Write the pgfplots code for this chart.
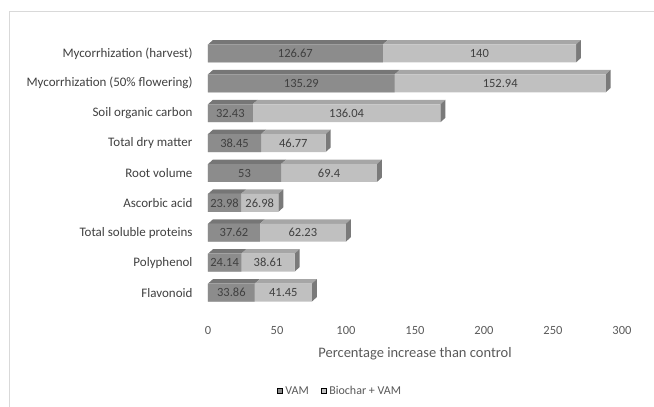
\documentclass[border=0pt]{standalone}
\usepackage{pgfplots}
\pgfplotsset{compat=1.18}
\usepackage{pgfplotstable}
\usepackage{fontspec}
\setmainfont{Carlito}

\definecolor{vamfront}{RGB}{140,140,140}
\definecolor{vamtop}{RGB}{118,118,118}
\definecolor{biofront}{RGB}{192,192,192}
\definecolor{biotop}{RGB}{166,166,166}
\definecolor{barside}{RGB}{122,122,122}
\definecolor{valtxt}{RGB}{64,64,64}
\definecolor{ticktxt}{RGB}{89,89,89}
\definecolor{chartframe}{RGB}{217,217,217}

% pos 0 is the bottom row (Flavonoid), pos 8 the top row
\pgfplotstableread{
pos vam    bio
0   33.86  41.45
1   24.14  38.61
2   37.62  62.23
3   23.98  26.98
4   53     69.4
5   38.45  46.77
6   32.43  136.04
7   135.29 152.94
8   126.67 140
}\effects

% half height of a bar front, and the depth of the extrusion (axis units)
\def\hw{0.3}
\def\dx{3.6}
\def\dy{0.15}

\begin{document}
\begin{tikzpicture}[x=1pt,y=1pt]
\begin{axis}[
  at={(208pt,99.5pt)}, anchor=south west,
  scale only axis, width=414pt, height=269pt,
  clip=false,
  xmin=0, xmax=300, ymin=-0.5, ymax=8.5,
  xtick={0,50,...,300},
  ytick={0,...,8},
  yticklabels={Flavonoid, Polyphenol, Total soluble proteins, Ascorbic acid,
    Root volume, Total dry matter, Soil organic carbon,
    Mycorrhization (50\% flowering), Mycorrhization (harvest)},
  axis line style={draw=none},
  tick style={draw=none},
  /pgf/number format/assume math mode=true,
  /pgf/number format/1000 sep={},
  xticklabel style={font=\fontsize{12.5}{14}\selectfont, text=ticktxt, yshift=-15pt},
  yticklabel style={font=\fontsize{13}{15}\selectfont, text=valtxt, xshift=-12pt},
  xlabel={Percentage increase than control},
  xlabel style={font=\fontsize{14.5}{16}\selectfont, text=ticktxt, yshift=-6pt},
  legend style={at={(0.319,-0.3105)}, anchor=center, draw=none,
    font=\fontsize{12}{14}\selectfont, text=ticktxt,
    legend columns=2, inner sep=0pt,
    /tikz/every odd column/.append style={column sep=1pt},
    /tikz/every even column/.append style={column sep=10pt}},
  legend image code/.code={\fill[#1] (0pt,-2.5pt) rectangle (5pt,2.5pt);},
]

% top and side faces of each bar
\pgfplotsinvokeforeach{0,...,8}{
  \pgfplotstablegetelem{#1}{vam}\of\effects
  \pgfmathsetmacro\va{\pgfplotsretval}
  \pgfplotstablegetelem{#1}{bio}\of\effects
  \pgfmathsetmacro\vt{\va+\pgfplotsretval}
  \pgfmathsetmacro\ylo{#1-\hw}
  \pgfmathsetmacro\yhi{#1+\hw}
  \pgfmathsetmacro\ytop{#1+\hw+\dy}
  \pgfmathsetmacro\ybk{#1-\hw+\dy}
  \pgfmathsetmacro\vadx{\va+\dx}
  \pgfmathsetmacro\vtdx{\vt+\dx}
  \edef\faces{%
    \noexpand\addplot[forget plot, fill=vamtop, draw=none]
      coordinates {(0,\yhi) (\va,\yhi) (\vadx,\ytop) (\dx,\ytop)} -- cycle;
    \noexpand\addplot[forget plot, fill=biotop, draw=none]
      coordinates {(\va,\yhi) (\vt,\yhi) (\vtdx,\ytop) (\vadx,\ytop)} -- cycle;
    \noexpand\addplot[forget plot, fill=barside, draw=none]
      coordinates {(\vt,\ylo) (\vt,\yhi) (\vtdx,\ytop) (\vtdx,\ybk)} -- cycle;
  }%
  \faces
}

% front faces: full length in the light grey, VAM share on top of it
\addplot[forget plot, xbar, bar shift=0pt, bar width=0.6, fill=biofront, draw=none]
  table[x expr=\thisrow{vam}+\thisrow{bio}, y=pos]{\effects};
\addplot[forget plot, xbar, bar shift=0pt, bar width=0.6, fill=vamfront, draw=none]
  table[x=vam, y=pos]{\effects};

% value labels centred on each segment
\addplot[forget plot, draw=none, mark=none, nodes near coords,
  point meta=explicit symbolic,
  every node near coord/.append style={anchor=center, text=valtxt,
    font=\fontsize{12.5}{14}\selectfont}]
  table[x expr=\thisrow{vam}/2, y=pos, meta=vam]{\effects};
\addplot[forget plot, draw=none, mark=none, nodes near coords,
  point meta=explicit symbolic,
  every node near coord/.append style={anchor=center, text=valtxt,
    font=\fontsize{12.5}{14}\selectfont}]
  table[x expr=\thisrow{vam}+\thisrow{bio}/2, y=pos, meta=bio]{\effects};

\addlegendimage{fill=vamfront}
\addlegendentry{VAM}
\addlegendimage{fill=biofront}
\addlegendentry{Biochar + VAM}
\end{axis}

% chart area border
\draw[chartframe, line width=0.8pt] (9,-10) -- (9,396) -- (670,396);

\pgfresetboundingbox
\path[use as bounding box] (0,0) rectangle (654,407);
\end{tikzpicture}
\end{document}
